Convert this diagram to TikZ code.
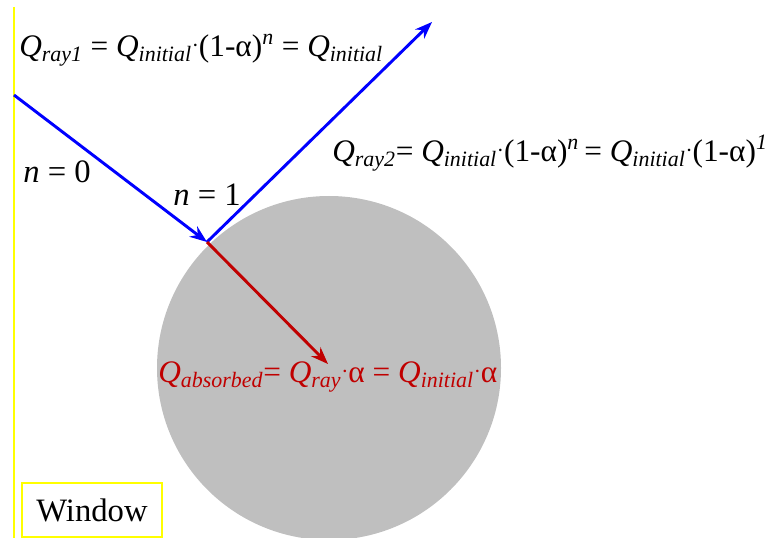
\documentclass[tikz,border=0pt]{standalone}
\usepackage{fontspec}
\setmainfont{Liberation Serif}
\usetikzlibrary{arrows.meta}
\definecolor{rblue}{RGB}{0,0,255}
\definecolor{dred}{RGB}{192,0,0}
\definecolor{wyellow}{RGB}{255,255,0}
\definecolor{lgray}{RGB}{191,191,191}
\newcommand{\Qsub}[1]{\textit{Q}\textsubscript{\textit{#1}}}
\newcommand{\mdot}{\raisebox{0.12em}{\fontsize{16}{16}\selectfont ·}}

\begin{document}
\begin{tikzpicture}[x=0.75pt,y=-0.75pt,>=Stealth,
    ray/.style={->,line width=2.2pt,draw=rblue},
    absray/.style={->,line width=2.2pt,draw=dred},
    lbl/.style={anchor=west,inner sep=0pt,font=\fontsize{23.5}{27}\selectfont},
    win/.style={draw=wyellow,line width=1.5pt,minimum width=105pt,minimum height=40.5pt,
                inner sep=0pt,font=\fontsize{24.5}{28}\selectfont}]
  \useasboundingbox (0,0) rectangle (774,538);
  \draw[wyellow,line width=1.5pt] (14,7) -- (14,538);
  \fill[lgray] (329,368) circle (129pt);
  \node[win] (window) at (92,510) {Window};
  % rays
  \coordinate (src) at (14,95);
  \coordinate (hit) at (207,242);
  \coordinate (refl) at (432,22);
  \coordinate (abs) at (328,364);
  \draw[ray] (src) -- (hit);
  \draw[ray] (hit) -- (refl);
  \draw[absray] (hit) -- (abs);
  % labels
  \node[lbl,font=\fontsize{24.5}{28}\selectfont] (n0) at (23,172) {\textit{n} = 0};
  \node[lbl,font=\fontsize{24.5}{28}\selectfont] (n1) at (173,195) {\textit{n} = 1};
  \node[lbl] (q1) at (19,50)
    {\Qsub{ray1} = \Qsub{initial}\mdot(1-α)\textsuperscript{\textit{n}} = \Qsub{initial}};
  \node[lbl] (q2) at (332,153)
    {\Qsub{ray2}= \Qsub{initial}\mdot(1-α)\textsuperscript{\textit{n}}\,= \Qsub{initial}\mdot(1-α)\textsuperscript{\textit{1}}};
  \node[lbl,text=dred] (qa) at (158,377)
    {\Qsub{absorbed}= \Qsub{ray}\mdot α = \Qsub{initial}\mdot α};
\end{tikzpicture}
\end{document}
